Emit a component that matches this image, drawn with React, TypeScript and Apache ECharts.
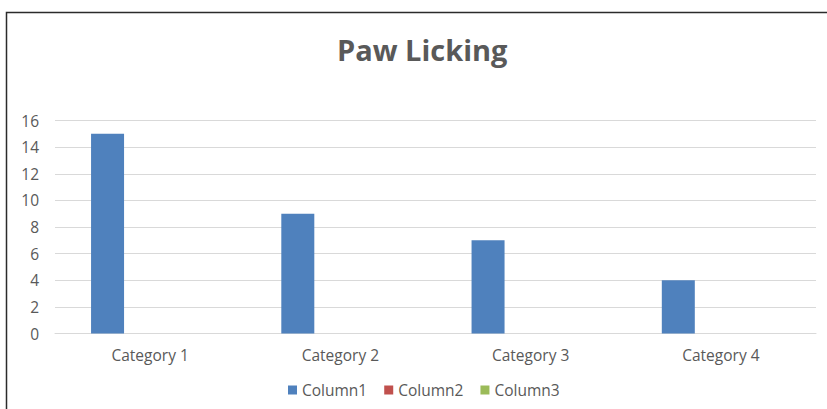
import React, { useEffect, useRef } from "react";
import * as echarts from "echarts";

const categories = ["Category 1", "Category 2", "Category 3", "Category 4"];
const column1 = [15, 9, 7, 4];
const column2 = [0, 0, 0, 0];
const column3 = [0, 0, 0, 0];
const seriesNames = ["Column1", "Column2", "Column3"];
const seriesColors = ["#4f81bd", "#c0504d", "#9bbb59"];
const titleText = "Paw Licking";

export default function App() {
  const ref = useRef<HTMLDivElement>(null);
  useEffect(() => {
    if (!ref.current) return;
    const chart = echarts.init(ref.current, null, { renderer: "svg" });
    const font = "'Open Sans', 'Noto Sans', sans-serif";
    const values = [column1, column2, column3];
    chart.setOption({
      animation: false,
      backgroundColor: "#ffffff",
      title: {
        text: titleText,
        left: 332,
        top: 30,
        textStyle: { fontFamily: font, fontSize: 29, fontWeight: "bold", color: "#595959" },
      },
      graphic: [
        {
          type: "polyline",
          shape: { points: [[6.5, 420], [6.5, 12.5], [830, 12.5]] },
          style: { stroke: "#2b2b2b", lineWidth: 1.5, fill: "none" },
          silent: true,
        },
      ],
      legend: {
        bottom: 6,
        left: 283,
        itemWidth: 9,
        itemHeight: 9,
        itemGap: 17,
        icon: "rect",
        textStyle: { fontFamily: font, fontSize: 15.5, color: "#595959" },
        data: seriesNames,
      },
      grid: { left: 55, right: 11, top: 120.5, bottom: 75.5, containLabel: false },
      xAxis: {
        type: "category",
        data: categories,
        axisLine: { lineStyle: { color: "#d9d9d9" } },
        axisTick: { show: false },
        axisLabel: { fontFamily: font, fontSize: 15.5, color: "#595959", margin: 13 },
      },
      yAxis: {
        type: "value",
        min: 0,
        max: 16,
        interval: 2,
        axisLine: { show: false },
        axisTick: { show: false },
        splitLine: { lineStyle: { color: "#d9d9d9", width: 1 } },
        axisLabel: { fontFamily: font, fontSize: 15.5, color: "#595959", margin: 16 },
      },
      series: seriesNames.map((name, i) => ({
        name,
        type: "bar",
        data: values[i],
        barWidth: 33,
        barGap: "29%",
        itemStyle: { color: seriesColors[i] },
      })),
    });
    return () => chart.dispose();
  }, []);
  return (
    <div
      ref={ref}
      style={{ position: "absolute", left: 0, top: 0, width: 827, height: 409 }}
    />
  );
}
